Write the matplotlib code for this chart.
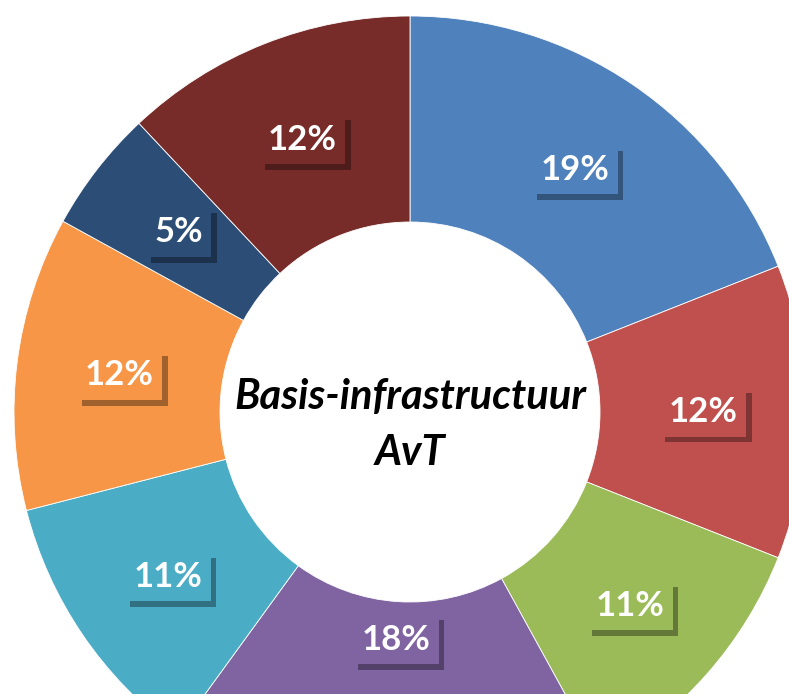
import matplotlib.pyplot as plt
import matplotlib.patheffects as pe

# Share per onderdeel (percent), clockwise from 12 o'clock
shares = [19, 12, 11, 18, 11, 12, 5, 12]
colors = ['#4F81BD', '#C0504D', '#9BBB59', '#8064A2',
          '#4BACC6', '#F79646', '#2C4D75', '#772C2A']
center_title = 'Basis-infrastructuur\nAvT'

fig = plt.figure(figsize=(7.89, 6.94), dpi=100)
ax = fig.add_axes([0, 0, 1, 1])

cx, cy = 410, 282
R_out, R_in = 396, 190

wedges, texts, autotexts = ax.pie(
    shares, colors=colors, startangle=90, counterclock=False,
    center=(cx, cy), radius=R_out,
    wedgeprops=dict(width=R_out - R_in, edgecolor='white', linewidth=0.6),
    autopct=lambda p: f'{p:.0f}%', pctdistance=(R_out + R_in) / 2 / R_out,
)

shadow = [pe.SimplePatchShadow(offset=(4, -4), shadow_rgbFace='black', alpha=0.35),
          pe.Normal()]
for t, c in zip(autotexts, colors):
    t.set_color('white')
    t.set_fontsize(25)
    t.set_fontfamily(['Lato', 'DejaVu Sans'])
    t.set_fontweight('bold')
    t.set_bbox(dict(boxstyle='square,pad=0.25', facecolor=c, edgecolor='none'))
    t.get_bbox_patch().set_path_effects(shadow)

# purple label sits closer to the hole so it stays inside the picture
x, y = autotexts[3].get_position()
f = 228 / 293
autotexts[3].set_position((cx + (x - cx) * f, cy + (y - cy) * f))

ax.text(cx, cy - 13, center_title, ha='center', va='center', fontsize=30,
        fontweight='bold', fontstyle='italic', family=['Lato', 'DejaVu Sans'],
        linespacing=1.6, color='black')

ax.set_xlim(0, 789)
ax.set_ylim(0, 694)
ax.set_aspect('equal')
ax.axis('off')

fig.savefig('out.png', dpi=100, facecolor='white')
